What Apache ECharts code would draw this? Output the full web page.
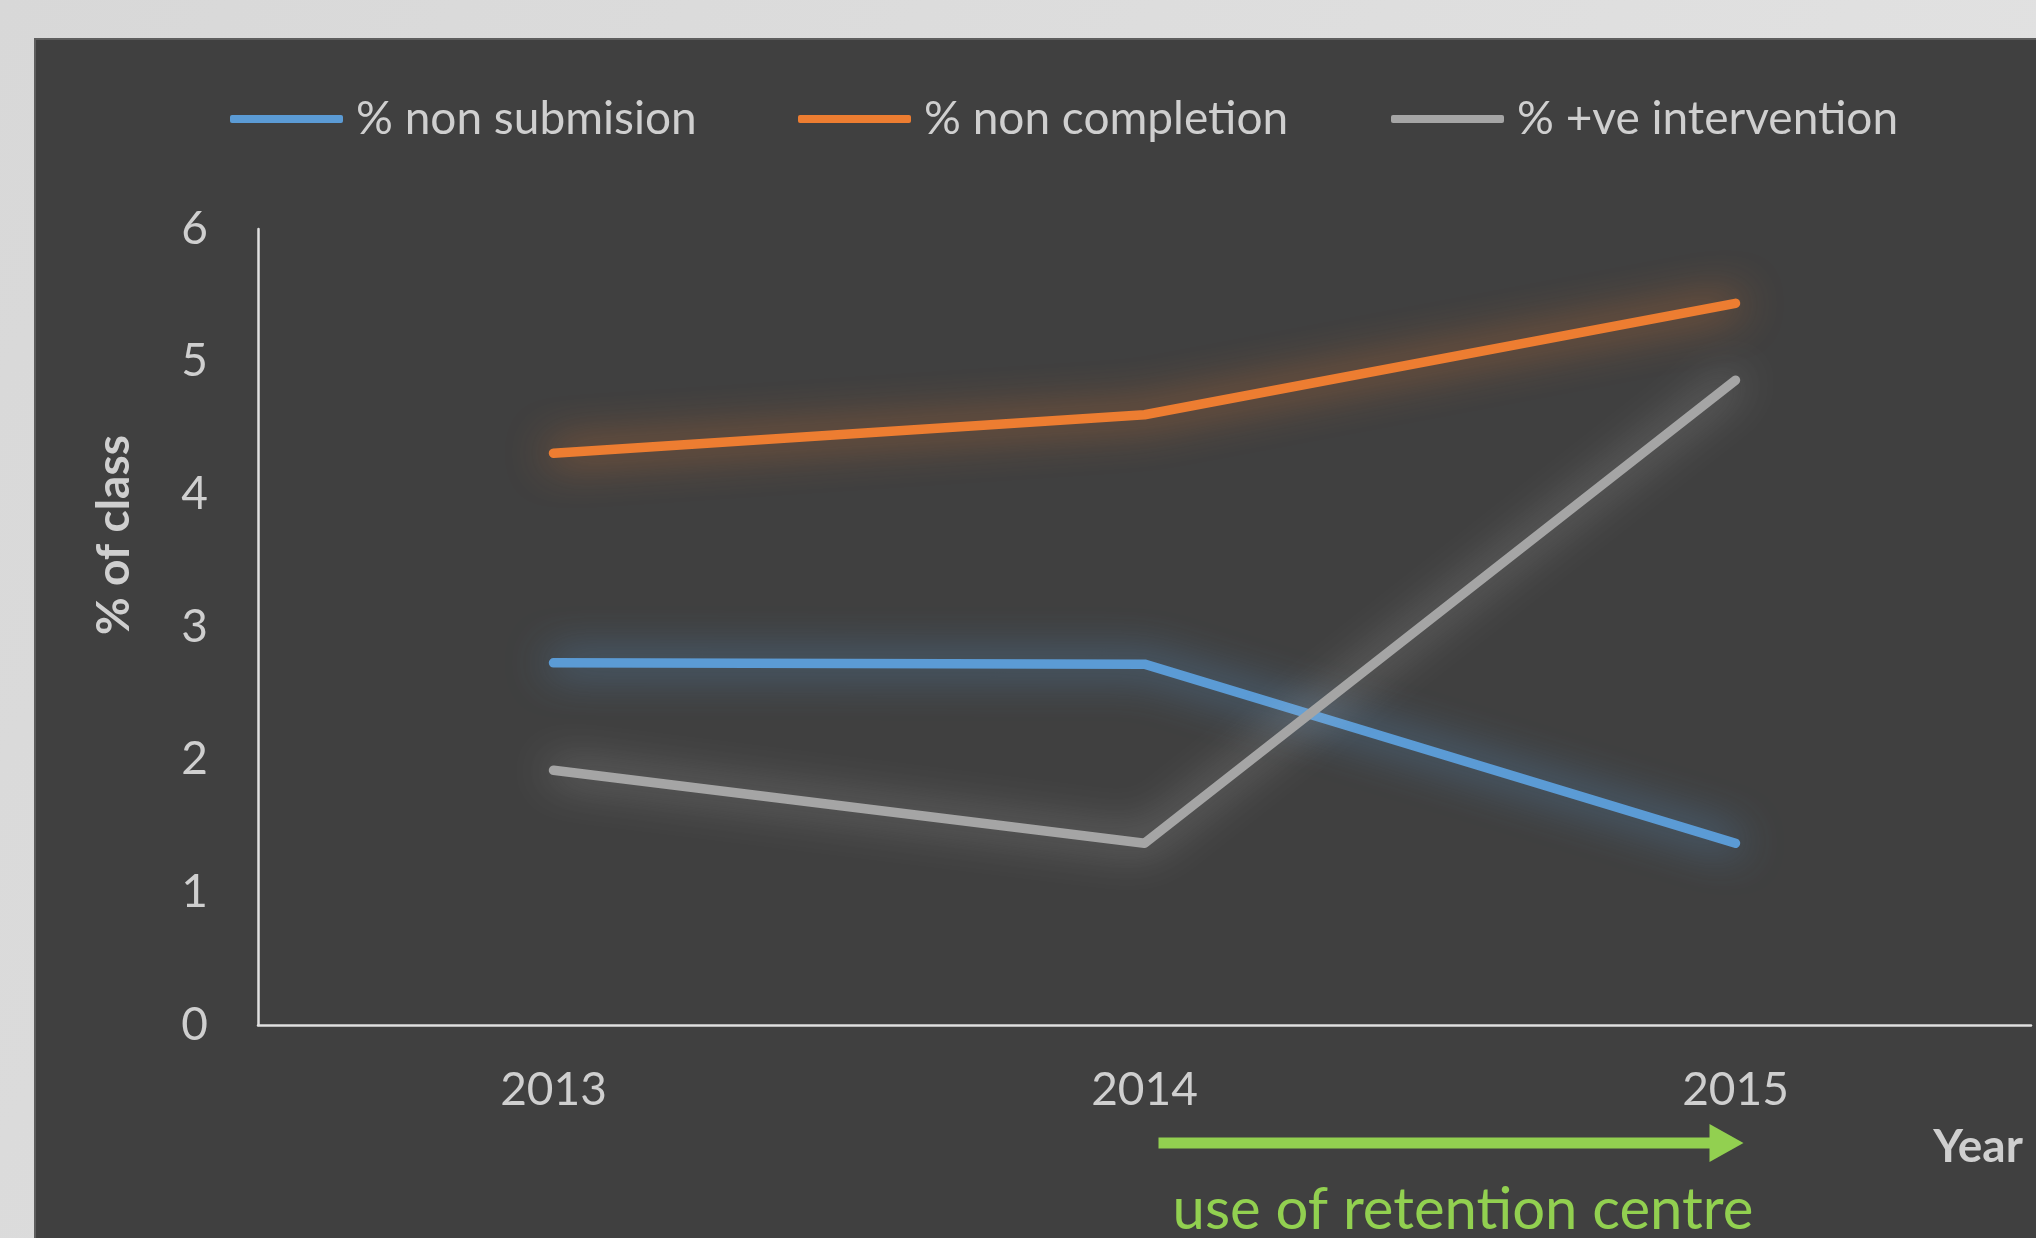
<!DOCTYPE html>
<html>
<head>
<meta charset="utf-8">
<style>
  html, body { margin: 0; padding: 0; background: #dcdcdc; }
  #chart { width: 2036px; height: 1238px; }
</style>
<script src="https://cdn.jsdelivr.net/npm/echarts@6/dist/echarts.min.js"></script>
</head>
<body>
<div id="chart"></div>
<script>
// ---- data ----
const categories = ['2013', '2014', '2015'];
const nonSubmission = [2.73, 2.72, 1.37];
const nonCompletion = [4.31, 4.60, 5.44];
const positiveIntervention = [1.92, 1.37, 4.86];
const seriesNames = ['% non submision', '% non completion', '% +ve intervention'];
const yTicks = { min: 0, max: 6, interval: 1 };
const xAxisTitle = 'Year';
const yAxisTitle = '% of class';
const annotationText = 'use of retention centre';

const FONT = 'Lato';
const LABEL = '#cfcfcf';
const colors = ['#5b9bd5', '#ed7d31', '#a5a5a5'];
const glows = ['rgba(91,155,213,1)', 'rgba(237,125,49,0.95)', 'rgba(200,200,200,0.7)'];

const chart = echarts.init(document.getElementById('chart'), null, { renderer: 'canvas' });

function lineSeries(i, data) {
  return {
    name: seriesNames[i],
    type: 'line',
    data: data,
    symbol: 'none',
    z: 3 + i,
    lineStyle: {
      color: colors[i], width: 9.5, cap: 'round', join: 'round',
      shadowBlur: 44, shadowColor: glows[i], shadowOffsetX: 0, shadowOffsetY: 0
    },
    itemStyle: { color: colors[i] },
    emphasis: { disabled: true }
  };
}

function legendFor(i, left) {
  return {
    left: left, top: 91,
    data: [seriesNames[i]],
    icon: 'roundRect',
    itemWidth: 113, itemHeight: 8,
    textStyle: { color: LABEL, fontFamily: FONT, fontSize: 46, padding: [0, 0, 0, 8] },
    selectedMode: false
  };
}

const option = {
  backgroundColor: {
    type: 'linear', x: 0, y: 0, x2: 1, y2: 1,
    colorStops: [{ offset: 0, color: '#d8d8d8' }, { offset: 1, color: '#e4e4e4' }]
  },
  animation: false,
  color: colors,
  legend: [legendFor(0, 225), legendFor(1, 793), legendFor(2, 1386)],
  grid: { left: 258, right: 5, top: 229, bottom: 213, containLabel: false, outerBoundsMode: 'none' },
  xAxis: {
    type: 'category',
    data: categories,
    boundaryGap: true,
    axisLine: { lineStyle: { color: '#e0e0e0', width: 2.5 } },
    axisTick: { show: false },
    axisLabel: { color: LABEL, fontFamily: FONT, fontSize: 46, margin: 42 },
    splitLine: { show: false }
  },
  yAxis: {
    type: 'value',
    min: yTicks.min, max: yTicks.max, interval: yTicks.interval,
    axisLine: { show: true, lineStyle: { color: '#e0e0e0', width: 2.5 } },
    axisTick: { show: false },
    axisLabel: { color: LABEL, fontFamily: FONT, fontSize: 46, margin: 50 },
    splitLine: { show: false }
  },
  series: [
    lineSeries(0, nonSubmission),
    lineSeries(1, nonCompletion),
    lineSeries(2, positiveIntervention)
  ]
};

chart.setOption(option);

// annotation graphics anchored to the category axis
const x2014 = chart.convertToPixel({ xAxisIndex: 0 }, categories[1]);
const x2015 = chart.convertToPixel({ xAxisIndex: 0 }, categories[2]);
const arrowY = 1143;
const arrowEnd = x2015 + 8;

chart.setOption({
  graphic: [
    {
      type: 'rect', z: -10, silent: true,
      shape: { x: 35, y: 39, width: 2036 - 35 + 10, height: 1238 - 39 + 10 },
      style: { fill: '#404040', stroke: '#5e5e5e', lineWidth: 2 }
    },
    {
      type: 'line', z: 10, silent: true,
      shape: { x1: x2014 + 14, y1: arrowY, x2: arrowEnd - 30, y2: arrowY },
      style: { stroke: '#92d050', lineWidth: 11 }
    },
    {
      type: 'polygon', z: 10, silent: true,
      shape: { points: [[arrowEnd - 34, arrowY - 19], [arrowEnd, arrowY], [arrowEnd - 34, arrowY + 19]] },
      style: { fill: '#92d050' }
    },
    {
      type: 'text', z: 10, silent: true,
      x: (x2014 + 14 + arrowEnd) / 2 + 12, y: 1210,
      style: {
        text: annotationText, fill: '#92d050', font: '58px Lato',
        align: 'center', verticalAlign: 'middle'
      }
    },
    {
      type: 'text', z: 10, silent: true,
      x: 1978, y: 1147,
      style: {
        text: xAxisTitle, fill: LABEL, font: 'bold 46px Lato',
        align: 'center', verticalAlign: 'middle'
      }
    },
    {
      type: 'text', z: 10, silent: true,
      x: 114, y: 535, rotation: Math.PI / 2,
      style: {
        text: yAxisTitle, fill: LABEL, font: 'bold 46px Lato',
        align: 'center', verticalAlign: 'middle'
      }
    }
  ]
});
</script>
</body>
</html>
